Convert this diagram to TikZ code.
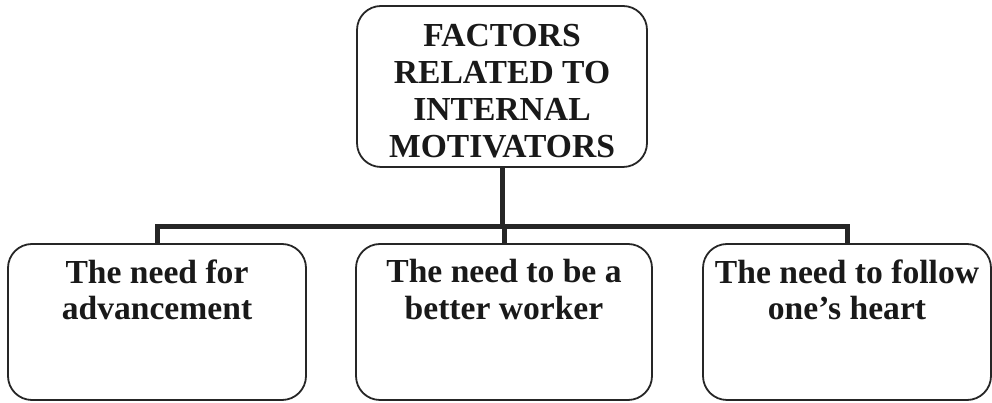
\documentclass[tikz,border=0pt]{standalone}
\usepackage{fontspec}
\setmainfont{Liberation Serif}
\begin{document}
\begin{tikzpicture}[x=1pt,y=1pt,thick,
    box node/.style={draw=black!85,line width=1.8pt,rounded corners=24pt,inner sep=0pt},
    label node/.style={inner sep=0pt,align=center,text=black!90,font=\bfseries\fontsize{33.6}{36.8}\selectfont},
    conn/.style={draw=black!85,line width=5pt}]
        \useasboundingbox (0,0) rectangle (992,403);

        \node[box node, minimum width=290, minimum height=161] at (502,316.5) (top) {};
        \node[label node, anchor=north] at ([yshift=-19]top.north) (toptext) {FACTORS\\RELATED TO\\INTERNAL\\MOTIVATORS};

        \node[box node, minimum width=298, minimum height=156] at (157,81) (adv) {};
        \node[box node, minimum width=296, minimum height=156] at (504,81) (work) {};
        \node[box node, minimum width=288, minimum height=156] at (847,81) (heart) {};

        \node[label node, anchor=north] at ([yshift=-16]adv.north) (advtext) {The need for\\advancement};
        \node[label node, anchor=north] at ([yshift=-16]work.north) (worktext) {The need to be a\\better worker};
        \node[label node, anchor=north] at ([yshift=-16]heart.north) (hearttext) {The need to follow\\one's heart};

        \coordinate (bus) at (503,176);
        \draw[conn] (top.south) -- (top.south |- bus);
        \draw[conn] (adv.north) |- (bus) -| (heart.north);
        \draw[conn] (work.north) -- (work.north |- bus);
        \end{tikzpicture}
\end{document}
